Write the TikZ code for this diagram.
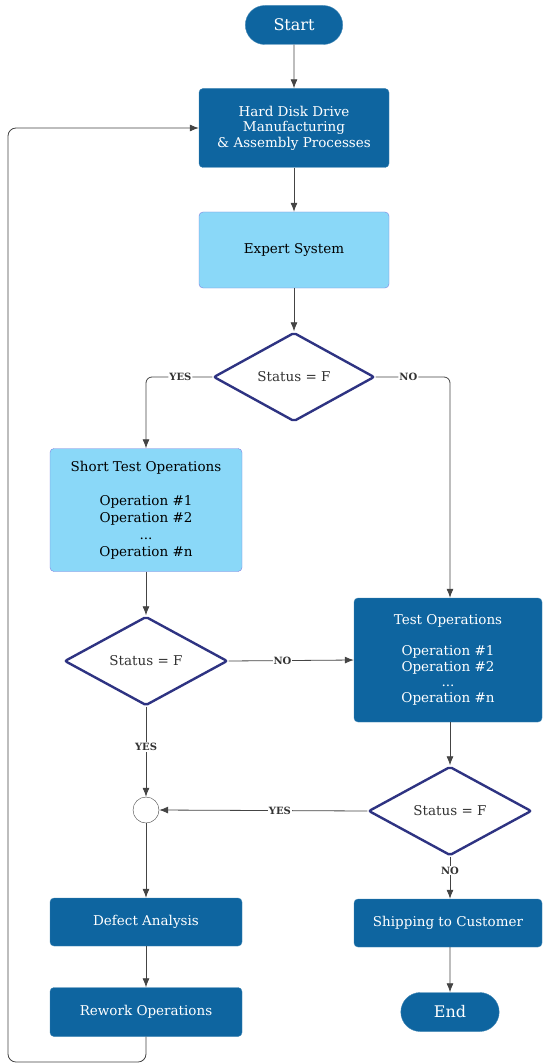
\documentclass[tikz,border=0pt]{standalone}
\usepackage{fontspec}
\setmainfont{DejaVu Serif}
\usetikzlibrary{arrows.meta,shapes.geometric,shapes.misc}
\definecolor{boxdark}{HTML}{0E65A0}
\definecolor{boxlight}{HTML}{8AD8F8}
\definecolor{boxedge}{HTML}{8080E0}
\definecolor{decedge}{HTML}{2E3382}
\definecolor{linegray}{HTML}{444444}
\tikzset{
  % Terminal nodes
  pill/.style     = {rounded rectangle, fill=boxdark, draw=boxdark!80, text=white,
                     minimum width=104pt, minimum height=39pt, font=\fontsize{16}{18}\selectfont},
  % Process boxes
  darkbox/.style  = {rectangle, rounded corners=4pt, fill=boxdark, draw=boxdark!80, text=white,
                     align=center, font=\fontsize{13.5}{15.5}\selectfont},
  lightbox/.style = {rectangle, rounded corners=4pt, fill=boxlight, draw=boxedge, text=black,
                     align=center, font=\fontsize{13.5}{17}\selectfont},
  % Decisions
  decision/.style = {diamond, draw=decedge, line width=2.4pt, fill=white, rounded corners=2pt,
                     inner sep=0pt, minimum width=161pt, minimum height=89pt,
                     text=black!80, font=\fontsize{13.5}{15}\selectfont},
  joint/.style    = {circle, draw=linegray, thin, fill=white, minimum size=26pt, inner sep=0pt},
  % Connectors
  arr/.style      = {-{Latex[length=9pt,width=7pt]}, draw=linegray, line width=0.8pt},
  lbl/.style      = {fill=white, inner sep=1pt, text=black!80, font=\bfseries\fontsize{10}{11}\selectfont},
}
\begin{document}
\begin{tikzpicture}[x=1pt,y=-1pt]
  \useasboundingbox (0,0) rectangle (542,1064);
  % Main column
  \node[pill] (start) at (294,25) {Start};
  \node[darkbox, minimum width=190pt, minimum height=79pt] (hdd) at (294,128)
    {Hard Disk Drive\\Manufacturing\\\& Assembly Processes};
  \node[lightbox, minimum width=190pt, minimum height=76pt] (expert) at (294,250) {Expert System};
  \node[decision] (d1) at (294,377) {Status = F};
  % Left branch
  \node[lightbox, minimum width=192pt, minimum height=123pt] (short) at (146,510)
    {Short Test Operations\\[17pt]Operation \#1\\Operation \#2\\...\\Operation \#n};
  \node[decision, minimum width=163pt] (d2) at (146,661) {Status = F};
  \node[joint] (join) at (146,810) {};
  \node[darkbox, minimum width=192pt, minimum height=48pt] (defect) at (146,922) {Defect Analysis};
  \node[darkbox, minimum width=192pt, minimum height=49pt] (rework) at (146,1012) {Rework Operations};
  % Right branch
  \node[darkbox, minimum width=188pt, minimum height=124pt] (test) at (448,660)
    {Test Operations\\[15.5pt]Operation \#1\\Operation \#2\\...\\Operation \#n};
  \node[decision, minimum width=163pt] (d3) at (450,811) {Status = F};
  \node[darkbox, minimum width=188pt, minimum height=48pt] (ship) at (448,923) {Shipping to Customer};
  \node[pill, minimum width=105pt] (end) at (450,1012) {End};
  \coordinate (loop) at (8,1062);
  % Connectors
  \draw[arr] (start) -- (hdd);
  \draw[arr] (hdd) -- (expert);
  \draw[arr] (expert) -- (d1);
  \draw[arr, rounded corners=6pt] (d1.west) -| (short.north) node[lbl, pos=0.24] {YES};
  \draw[arr, rounded corners=6pt] (d1.east) -| ([xshift=2pt]test.north) node[lbl, pos=0.22] {NO};
  \draw[arr] (short) -- (d2);
  \draw[arr] (d2.east) -- (test.west) node[lbl, pos=0.43] {NO};
  \draw[arr] (d2.south) -- (join.north) node[lbl, pos=0.45] {YES};
  \draw[arr] ([xshift=2pt]test.south) -- (d3.north);
  \draw[arr] (d3.west) -- (join.east) node[lbl, pos=0.42] {YES};
  \draw[arr] (d3.south) -- ([xshift=2pt]ship.north) node[lbl, pos=0.33] {NO};
  \draw[arr] (join) -- (defect);
  \draw[arr] (defect) -- (rework);
  \draw[arr] ([xshift=2pt]ship.south) -- (end);
  \draw[arr, rounded corners=8pt] (rework.south) |- (loop) |- (hdd.west);
\end{tikzpicture}
\end{document}
